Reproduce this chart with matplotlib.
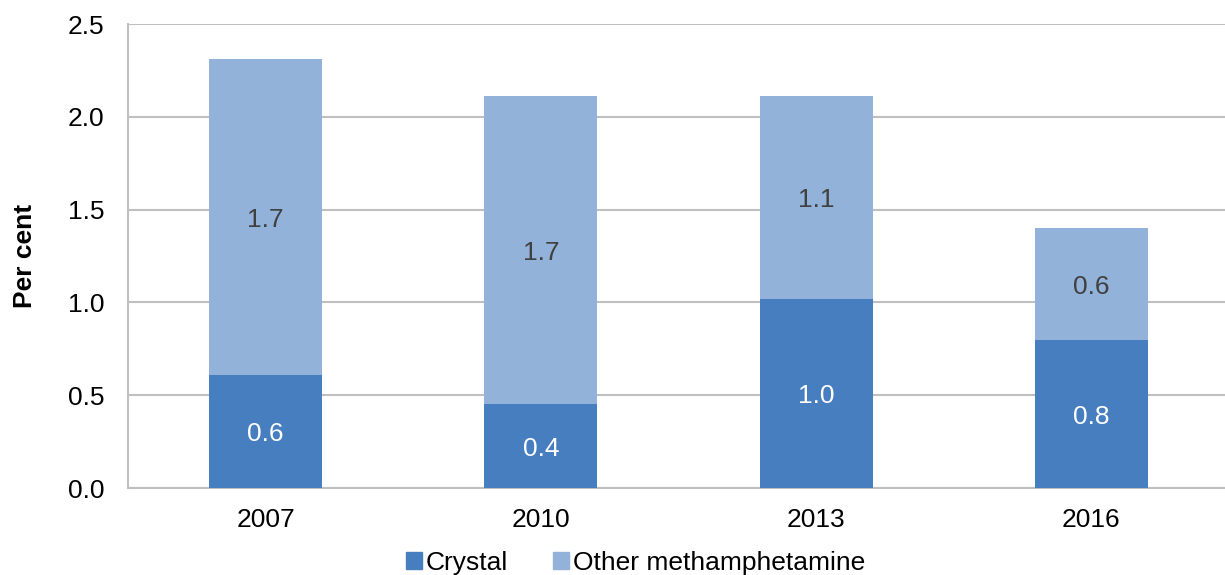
import matplotlib
matplotlib.use('Agg')
import matplotlib.pyplot as plt
from matplotlib.patches import Patch
import numpy as np

plt.rcParams['font.family'] = ['Liberation Sans', 'DejaVu Sans']

years = ['2007', '2010', '2013', '2016']
crystal = [0.61, 0.45, 1.02, 0.80]
other = [1.70, 1.66, 1.09, 0.60]
crystal_labels = ['0.6', '0.4', '1.0', '0.8']
other_labels = ['1.7', '1.7', '1.1', '0.6']
yticks = [0.0, 0.5, 1.0, 1.5, 2.0, 2.5]

c_crystal = '#467EC0'
c_other = '#92B2DA'
grid_col = '#BFBFBF'
fs = 19

fig = plt.figure(figsize=(12.25, 5.75), dpi=100)
ax = fig.add_axes([128/1225, 1-488/575, (1229-128)/1225, (488-24)/575])

x = np.arange(len(years))
w = 0.41
ax.bar(x, crystal, w, color=c_crystal, zorder=3)
ax.bar(x, other, w, bottom=crystal, color=c_other, zorder=3)

for i in range(len(years)):
    ax.text(x[i], crystal[i]/2 - 0.015, crystal_labels[i], ha='center', va='center',
            color='white', fontsize=fs, zorder=4)
    ax.text(x[i], crystal[i] + other[i]/2 - 0.015, other_labels[i], ha='center', va='center',
            color='#404040', fontsize=fs, zorder=4)

ax.set_xlim(-0.5, 3.5)
ax.set_ylim(0, 2.5)
ax.set_yticks(yticks)
ax.set_yticklabels([f'{v:.1f}' for v in yticks])
ax.set_xticks(x)
ax.set_xticklabels(years)
ax.tick_params(axis='both', length=0, labelsize=fs, colors='black')
ax.tick_params(axis='y', pad=17)
ax.tick_params(axis='x', pad=14.5)
ax.yaxis.grid(True, color=grid_col, linewidth=1.5, zorder=0)
ax.set_axisbelow(True)
for s in ['top', 'right']:
    ax.spines[s].set_visible(False)
for s in ['left', 'bottom']:
    ax.spines[s].set_color(grid_col)
    ax.spines[s].set_linewidth(1.5)
ax.set_ylabel('Per cent', fontsize=fs, fontweight='bold', labelpad=22)

handles = [Patch(color=c_crystal, label='Crystal'), Patch(color=c_other, label='Other methamphetamine')]
fig.legend(handles=handles, loc='center', bbox_to_anchor=(0.519, 1-563/575), ncol=2,
           frameon=False, fontsize=19, handlelength=0.6, handleheight=0.6, handletextpad=0.15,
           columnspacing=1.7, borderaxespad=0)

fig.savefig('out.png', dpi=100)
